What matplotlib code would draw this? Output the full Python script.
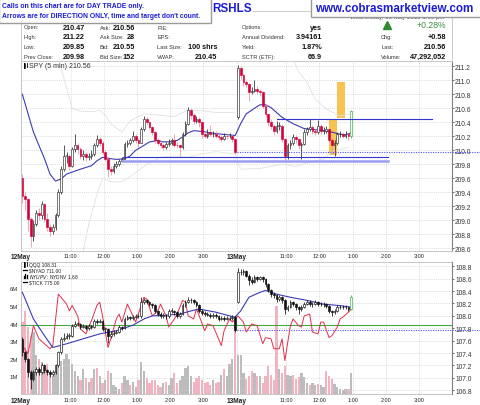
import numpy as np
import matplotlib
matplotlib.use("Agg")
import matplotlib.pyplot as plt
from matplotlib.patches import Rectangle
from matplotlib.lines import Line2D

plt.rcParams['font.family'] = ['Liberation Sans', 'DejaVu Sans']

# ----------------------------- data -----------------------------
days = ['12May', '13May']
bars_per_day = 78
hour_marks = [11, 12, 13, 14, 15]
hour_labels = ['11:00', '12:00', '1:00', '2:00', '3:00']

spy_day_open = [209.61, 210.47]
spy_prev_close = 209.98
spy_close = [
    209.35, 209.30, 209.02, 208.78, 208.95, 209.11, 209.07, 209.23, 209.02, 208.90,
    208.85, 208.90, 209.07, 209.40, 209.73, 209.92, 209.92, 209.78, 210.02, 210.07,
    210.02, 209.92, 209.95, 209.90, 209.92, 209.95, 210.07, 210.16, 210.11, 209.97,
    209.88, 209.73, 209.71, 209.78, 209.80, 209.85, 209.88, 210.09, 210.11, 210.14,
    210.21, 210.14, 210.11, 210.30, 210.45, 210.40, 210.33, 210.26, 210.14, 210.11,
    210.07, 210.04, 210.09, 210.11, 210.14, 210.08, 210.07, 210.04, 210.23, 210.38,
    210.57, 210.50, 210.42, 210.45, 210.40, 210.23, 210.21, 210.26, 210.23, 210.24,
    210.21, 210.19, 210.16, 210.21, 210.20, 210.21, 210.16, 209.98,
    211.18, 211.07, 210.97, 210.95, 210.83, 210.85, 210.88, 210.85, 210.83, 210.64,
    210.52, 210.40, 210.35, 210.28, 210.35, 210.35, 210.16, 209.92, 210.07, 210.11,
    210.19, 210.16, 210.07, 210.09, 210.26, 210.30, 210.33, 210.28, 210.26, 210.35,
    210.28, 210.28, 210.30, 210.14, 210.07, 210.11, 210.23, 210.23, 210.21, 210.23,
    210.20, 210.56]
spy_high = [
    209.66, 209.40, 209.32, 209.05, 209.00, 209.15, 209.18, 209.28, 209.25, 209.10,
    208.95, 208.95, 209.10, 209.45, 209.78, 210.08, 209.98, 209.95, 210.05, 210.23,
    210.10, 210.05, 210.00, 209.98, 209.96, 210.00, 210.10, 210.22, 210.19, 210.13,
    210.00, 209.90, 209.78, 209.82, 209.85, 209.88, 209.90, 210.12, 210.15, 210.18,
    210.28, 210.23, 210.17, 210.34, 210.49, 210.47, 210.42, 210.35, 210.28, 210.17,
    210.13, 210.10, 210.12, 210.16, 210.18, 210.24, 210.12, 210.09, 210.26, 210.42,
    210.62, 210.60, 210.53, 210.49, 210.47, 210.42, 210.27, 210.30, 210.36, 210.28,
    210.27, 210.26, 210.22, 210.25, 210.24, 210.25, 210.24, 210.18,
    211.22, 211.20, 211.10, 211.00, 210.96, 210.90, 211.00, 210.92, 210.88, 210.85,
    210.66, 210.54, 210.45, 210.38, 210.42, 210.40, 210.37, 210.18, 210.10, 210.15,
    210.24, 210.22, 210.18, 210.12, 210.30, 210.34, 210.45, 210.36, 210.31, 210.44,
    210.37, 210.33, 210.35, 210.32, 210.17, 210.15, 210.26, 210.27, 210.26, 210.27,
    210.25, 210.58]
spy_low = [
    209.24, 209.15, 208.85, 208.62, 208.70, 208.92, 209.00, 209.02, 208.98, 208.85,
    208.78, 208.80, 208.86, 209.05, 209.38, 209.70, 209.82, 209.72, 209.76, 209.98,
    209.95, 209.88, 209.86, 209.85, 209.86, 209.88, 209.92, 210.05, 210.06, 209.94,
    209.84, 209.62, 209.65, 209.68, 209.74, 209.77, 209.83, 209.87, 210.05, 210.07,
    210.12, 210.10, 210.05, 210.10, 210.28, 210.36, 210.30, 210.22, 210.11, 210.07,
    210.03, 210.00, 210.02, 210.06, 210.08, 210.05, 210.03, 209.92, 210.02, 210.20,
    210.36, 210.45, 210.38, 210.39, 210.34, 210.18, 210.17, 210.18, 210.20, 210.19,
    210.17, 210.15, 210.12, 210.14, 210.16, 210.17, 210.12, 209.95,
    210.45, 211.00, 210.92, 210.90, 210.70, 210.80, 210.83, 210.80, 210.78, 210.60,
    210.48, 210.35, 210.30, 210.22, 210.25, 210.29, 210.12, 209.85, 209.88, 210.02,
    210.08, 210.10, 210.02, 209.87, 210.07, 210.22, 210.27, 210.24, 210.22, 210.24,
    210.24, 210.24, 210.25, 210.10, 209.95, 209.92, 210.08, 210.19, 210.17, 210.18,
    210.14, 210.18]

qqq_day_open = [107.63, 108.22]
qqq_close = [
    107.41, 107.30, 107.09, 106.98, 107.09, 107.14, 107.09, 107.20, 107.12, 107.09,
    107.06, 107.09, 107.20, 107.41, 107.63, 107.65, 107.68, 107.68, 107.84, 107.87,
    107.87, 107.82, 107.84, 107.80, 107.84, 107.82, 107.92, 107.90, 107.92, 107.79,
    107.79, 107.68, 107.71, 107.73, 107.74, 107.82, 107.80, 107.95, 107.98, 107.96,
    107.98, 108.00, 107.99, 108.22, 108.25, 108.22, 108.19, 108.17, 108.08, 108.03,
    108.00, 108.00, 107.99, 108.08, 108.08, 108.06, 108.00, 108.03, 108.17, 108.22,
    108.25, 108.25, 108.22, 108.17, 108.08, 108.05, 108.03, 108.02, 108.00, 108.01,
    108.00, 107.95, 107.96, 107.95, 107.96, 107.97, 107.98, 107.78,
    108.70, 108.70, 108.72, 108.65, 108.58, 108.55, 108.62, 108.60, 108.62, 108.59,
    108.51, 108.41, 108.35, 108.33, 108.27, 108.30, 108.25, 108.11, 108.14, 108.22,
    108.19, 108.14, 108.11, 108.14, 108.19, 108.22, 108.19, 108.19, 108.22, 108.19,
    108.19, 108.19, 108.165, 108.08, 108.06, 108.08, 108.14, 108.14, 108.14, 108.14,
    108.11, 108.31]
qqq_high = [
    107.66, 107.44, 107.32, 107.12, 107.13, 107.18, 107.17, 107.24, 107.22, 107.15,
    107.12, 107.12, 107.23, 107.44, 107.66, 107.72, 107.72, 107.72, 107.87, 107.91,
    107.90, 107.89, 107.87, 107.86, 107.87, 107.86, 107.95, 107.95, 107.95, 107.93,
    107.82, 107.80, 107.75, 107.77, 107.78, 107.85, 107.84, 107.98, 108.01, 108.00,
    108.02, 108.03, 108.03, 108.30, 108.29, 108.27, 108.24, 108.21, 108.19, 108.10,
    108.06, 108.04, 108.03, 108.11, 108.12, 108.10, 108.08, 108.06, 108.20, 108.26,
    108.31, 108.29, 108.27, 108.24, 108.19, 108.11, 108.08, 108.06, 108.05, 108.04,
    108.04, 108.02, 107.99, 107.99, 107.99, 108.00, 108.01, 107.99,
    108.78, 108.75, 108.76, 108.74, 108.67, 108.62, 108.66, 108.65, 108.65, 108.64,
    108.61, 108.53, 108.44, 108.38, 108.36, 108.34, 108.32, 108.27, 108.18, 108.25,
    108.24, 108.21, 108.16, 108.17, 108.22, 108.25, 108.25, 108.23, 108.25, 108.24,
    108.23, 108.22, 108.21, 108.18, 108.10, 108.11, 108.17, 108.17, 108.17, 108.17,
    108.15, 108.33]
qqq_low = [
    107.36, 107.25, 107.02, 106.82, 106.95, 107.05, 107.04, 107.06, 107.08, 107.04,
    107.02, 107.03, 107.07, 107.18, 107.39, 107.60, 107.62, 107.63, 107.66, 107.82,
    107.83, 107.79, 107.80, 107.77, 107.78, 107.79, 107.80, 107.87, 107.88, 107.76,
    107.74, 107.57, 107.64, 107.68, 107.70, 107.72, 107.77, 107.79, 107.93, 107.93,
    107.94, 107.96, 107.96, 107.97, 108.19, 108.19, 108.16, 108.13, 108.05, 108.00,
    107.97, 107.96, 107.95, 107.97, 108.05, 108.02, 107.97, 107.97, 108.01, 108.15,
    108.20, 108.21, 108.19, 108.14, 108.05, 108.02, 108.00, 107.99, 107.97, 107.97,
    107.97, 107.92, 107.93, 107.92, 107.93, 107.93, 107.94, 107.74,
    108.20, 108.66, 108.66, 108.62, 108.50, 108.52, 108.53, 108.57, 108.58, 108.55,
    108.47, 108.38, 108.31, 108.29, 108.23, 108.24, 108.21, 108.03, 108.08, 108.12,
    108.16, 108.10, 108.03, 108.08, 108.12, 108.17, 108.16, 108.15, 108.17, 108.16,
    108.16, 108.15, 108.13, 108.05, 108.00, 108.03, 108.06, 108.11, 108.11, 108.11,
    108.08, 108.10]
qqq_prev_close = 107.78

volume_m = [
    4.1, 4.7, 3.8, 3.3, 3.5, 2.2, 2.0, 1.8, 1.5, 1.7,
    1.2, 1.0, 1.3, 1.6, 1.9, 2.0, 2.3, 2.0, 1.7, 1.3,
    1.0, 0.8, 1.4, 0.9, 0.7, 0.9, 1.4, 1.5, 1.0, 0.6,
    0.8, 1.3, 1.2, 0.5, 0.4, 0.3, 0.6, 1.0, 0.8, 0.5,
    0.7, 0.4, 0.8, 1.8, 1.3, 0.9, 0.6, 0.8, 0.8, 0.5,
    0.4, 0.6, 0.7, 0.5, 0.9, 1.2, 0.6, 0.8, 1.0, 1.5,
    1.6, 1.0, 0.7, 0.9, 1.0, 0.8, 0.6, 0.7, 0.5, 0.8,
    0.6, 0.7, 1.1, 1.4, 1.0, 1.7, 2.0, 4.0,
    2.2, 2.2, 1.2, 0.85, 1.0, 1.3, 1.2, 1.0, 1.05, 0.65,
    1.0, 1.6, 1.1, 0.8, 5.0, 1.4, 1.2, 1.6, 1.1, 1.0,
    1.1, 0.85, 0.95, 1.2, 0.95, 0.6, 0.5, 0.65, 0.5, 0.55,
    0.5, 0.4, 1.3, 1.0, 0.85, 0.55, 0.4, 0.3, 0.2, 0.3,
    0.3, 1.2]

spy_sma_bar = [0, 4, 8, 10, 12, 14, 16, 21, 25, 27, 29, 32, 34, 37, 39, 41, 44, 46, 49, 51,
               53, 56, 58, 60, 62, 65, 68, 72, 75, 77, 79, 81, 84, 86, 88, 90, 92, 94, 98, 102,
               105, 109, 112, 115, 117, 119]
spy_sma = [210.80, 210.26, 209.88, 209.66, 209.56, 209.59, 209.66, 209.73, 209.78, 209.85,
           209.90, 209.88, 209.87, 209.88, 209.92, 210.00, 210.07, 210.12, 210.14, 210.12,
           210.12, 210.14, 210.19, 210.25, 210.28, 210.27, 210.25, 210.23, 210.22, 210.21,
           210.38, 210.52, 210.60, 210.65, 210.65, 210.61, 210.54, 210.47, 210.38, 210.31,
           210.30, 210.28, 210.26, 210.23, 210.22, 210.25]
bb_up_bar = [13, 14, 16, 18, 21, 25, 28, 30, 32, 36, 39, 44, 50, 55, 60, 64, 70, 77, None,
             98, 100, 103, 106, 110, 115, 119]
bb_up = [211.30, 211.18, 210.89, 210.60, 210.56, 210.55, 210.57, 210.50, 210.38, 210.26,
         210.42, 210.52, 210.50, 210.48, 210.58, 210.57, 210.54, 210.54, None,
         211.30, 211.12, 210.97, 210.73, 210.59, 210.49, 210.52]
bb_lo_bar = [22, 24, 27, 29, 32, 36, 40, 45, 50, 55, 60, 65, 70, 77, 79, 86, 94, 99, 104, 109, 113, 118]
bb_lo = [208.56, 208.94, 209.37, 209.60, 209.55, 209.55, 209.65, 209.80, 209.90, 209.92,
         209.90, 209.95, 209.98, 209.95, 209.73, 209.74, 209.80, 209.77, 209.83, 209.88, 210.00, 210.04]

level_price = [210.45, 209.91, 209.84]
level_from = [92.5, 36.9, 36.9]
level_to = [148.6, 132.7, 132.7]

box_from = [111.5, 114.3]
box_to = [114.5, 117.3]
box_low = [209.93, 210.46]
box_high = [210.45, 210.98]

qqq_sma_bar = [0, 4, 8, 11, 16, 22, 28, 34, 40, 44, 47, 52, 57, 61, 64, 70, 75, 77, 79, 82,
               86, 88, 92, 97, 103, 109, 115, 119]
qqq_sma = [108.38, 107.95, 107.68, 107.49, 107.55, 107.63, 107.71, 107.76, 107.85, 107.95,
           108.00, 108.01, 108.03, 108.08, 108.11, 108.06, 108.00, 107.98, 108.08, 108.30,
           108.38, 108.41, 108.35, 108.30, 108.25, 108.19, 108.165, 108.14]
tick_bar = [0, 2, 4, 6, 10, 11, 13, 14, 16, 17, 18, 20, 21, 23, 25, 27, 28, 29, 31, 32,
            34, 35, 36, 38, 40, 41, 43, 44, 45, 47, 49, 50, 52, 53, 55, 56, 58, 59, 60, 62,
            63, 64, 66, 67, 69, 71, 72, 73, 75, 76, 78, 80, 81, 83, 85, 87, 88, 90, 91, 93,
            94, 95, 97, 98, 100, 101, 102, 104, 105, 107, 108, 109, 111, 112, 114, 115, 116, 118, 119]
tick_line = [107.52, 107.39, 107.84, 107.63, 107.47, 107.52, 108.35, 108.30, 108.19, 108.08,
             108.17, 108.00, 107.79, 107.71, 107.92, 108.17, 108.22, 108.00, 107.49, 107.63,
             107.95, 108.03, 107.90, 108.19, 108.00, 107.90, 108.17, 108.30, 108.27, 108.00,
             108.08, 108.19, 108.00, 107.82, 107.95, 108.03, 108.25, 108.22, 108.00, 107.95,
             108.11, 108.00, 107.76, 107.87, 107.84, 107.63, 107.52, 107.76, 107.95, 107.90,
             108.00, 107.90, 107.74, 107.87, 107.84, 107.55, 107.65, 107.63, 107.47, 107.47,
             107.63, 107.28, 107.84, 107.95, 107.84, 107.82, 108.00, 108.03, 107.74, 107.71,
             107.90, 107.90, 107.65, 107.68, 107.82, 107.95, 107.98, 108.06, 108.11]
green_level = 107.85

quote_labels = [['Open:', 'High:', 'Low:', 'Prev Close:'],
                ['Ask:', 'Ask Size:', 'Bid:', 'Bid Size:'],
                ['P/E:', 'EPS:', 'Last Size:', 'VWAP:'],
                ['Options:', 'Annual Dividend:', 'Yield:', 'SCTR (ETF):'],
                ['', 'Chg:', 'Last:', 'Volume:']]
quote_values = [['210.47', '211.22', '209.85', '209.98'],
                ['210.56', '28', '210.55', '152'],
                ['', '', '100 shrs', '210.45'],
                ['yes', '3.94161', '1.87%', '66.9'],
                ['+0.28%', '+0.58', '210.56', '47,292,052']]
note_lines = ["Calls on this chart are for DAY TRADE only.",
              "Arrows are for DIRECTION ONLY, time and target don't count."]
title_text = "RSHLS"
site_text = "www.cobrasmarketview.com"
date_text = "Wednesday, 13 May 2015 1:00 pm"
spy_legend = "SPY (5 min) 210.56"
lower_legend = ["QQQ 108.31", "$NYAD 711.00", "$NYUPV:$NYDNV 1.68", "$TICK 775.00"]

# ----------------------------- figure -----------------------------
W, H = 480, 406
fig = plt.figure(figsize=(4.8, 4.06), dpi=100)
fig.patch.set_facecolor('white')
BLUE = '#1c1cd6'


def ftext(x, y, s, size, ha='left', weight='normal', color='#333333', zorder=10, **kw):
    fig.text(x / W, 1 - y / H, s, fontsize=size, ha=ha, va='center',
             fontweight=weight, color=color, zorder=zorder, **kw)


def frect(x0, y0, x1, y1, **kw):
    fig.add_artist(Rectangle((x0 / W, 1 - y1 / H), (x1 - x0) / W, (y1 - y0) / H,
                             transform=fig.transFigure, **kw))


def fline(xs, ys, **kw):
    fig.add_artist(Line2D([x / W for x in xs], [1 - y / H for y in ys],
                          transform=fig.transFigure, **kw))


def opens_from(close, day_open):
    o = []
    for i in range(len(close)):
        o.append(day_open[i // bars_per_day] if i % bars_per_day == 0 else close[i - 1])
    return o


def draw_candles(ax, o, h, l, c, style):
    n = len(c)
    for i in range(n):
        x = i + 0.5
        up = c[i] >= o[i]
        if i == n - 1:
            face, edge, wick = 'white', '#35b040', '#35b040'
        elif style == 'spy':
            if up:
                face, edge, wick = 'white', '#2a2a2a', '#2a2a2a'
            else:
                face, edge, wick = '#d4003a', '#d4003a', '#ee8fa5'
        else:
            if up:
                face, edge, wick = 'white', '#111111', '#111111'
            else:
                face, edge, wick = '#111111', '#111111', '#111111'
        ax.plot([x, x], [l[i], h[i]], color=wick, lw=0.55, zorder=4, solid_capstyle='butt')
        bot = min(o[i], c[i])
        ht = max(abs(c[i] - o[i]), 0.008)
        ax.add_patch(Rectangle((x - 0.31, bot), 0.62, ht, facecolor=face,
                               edgecolor=edge, lw=0.45, zorder=5))


# tick positions derived from session layout
tick_pos, tick_lab = [], []
for d, name in enumerate(days):
    start = d * bars_per_day
    tick_pos.append(start)
    tick_lab.append(name)
    for hm, hl in zip(hour_marks, hour_labels):
        tick_pos.append(start + (hm - 9.5) * 12)
        tick_lab.append(hl)

NB = 2 * bars_per_day
grid_kw = dict(color='#d2d2d2', lw=0.5, ls=(0, (1.5, 1.5)))

# ---------------- upper panel ----------------
ax1 = fig.add_axes([21 / W, 1 - 252 / H, 431 / W, 190 / H])
ax1.set_xlim(0, NB)
ax1.set_ylim(208.561, 211.276)
ax1.set_axisbelow(True)
yt = np.round(np.arange(208.6, 211.21, 0.2), 1)
ax1.set_yticks(yt)
ax1.set_yticklabels([f'{v:.1f}' for v in yt])
ax1.yaxis.tick_right()
ax1.tick_params(axis='y', labelsize=4.8, length=1.5, pad=0.8, colors='#333333', width=0.5)
ax1.set_xticks(tick_pos)
ax1.set_xticklabels(tick_lab)
ax1.tick_params(axis='x', labelsize=4.0, length=0, pad=1.3, colors='#222222')
for t in ax1.get_xticklabels():
    if t.get_text() in days:
        t.set_fontweight('bold')
        t.set_fontsize(4.7)
ax1.grid(True, **grid_kw)
for s in ['left', 'top', 'bottom']:
    ax1.spines[s].set_color('#bdbdbd')
    ax1.spines[s].set_linewidth(0.6)
ax1.spines['right'].set_color('#808080')
ax1.spines['right'].set_linewidth(0.8)

spy_open = opens_from(spy_close, spy_day_open)

for x0, x1, lo, hi in zip(box_from, box_to, box_low, box_high):
    ax1.add_patch(Rectangle((x0, lo), x1 - x0, hi - lo, facecolor='#f8c353',
                            edgecolor='none', zorder=2))

ax1.plot(np.array(bb_up_bar, dtype=float) + 0.5, np.array(bb_up, dtype=float),
         color='#dde3dd', lw=0.6, zorder=2)
ax1.plot(np.array(bb_lo_bar, dtype=float) + 0.5, np.array(bb_lo, dtype=float),
         color='#dde3dd', lw=0.6, zorder=2)
ax1.plot(np.array(spy_sma_bar) + 0.5, spy_sma, color='#3b3bb5', lw=0.8, zorder=3)

ax1.plot([level_from[0], level_to[0]], [level_price[0]] * 2, color='#3434d0', lw=0.8, zorder=6)
ax1.plot([level_from[1], level_to[1]], [level_price[1]] * 2, color='#3434d0', lw=0.8, zorder=6)
ax1.plot([level_from[2], level_to[2]], [level_price[2]] * 2, color='#9a9cf4', lw=1.8, zorder=6)
ax1.plot([bars_per_day, NB + 10.2], [spy_prev_close] * 2, color='#5050ff', lw=0.8,
         ls=(0, (1, 1.2)), zorder=6, clip_on=False)

draw_candles(ax1, spy_open, spy_high, spy_low, spy_close, 'spy')

# ---------------- lower panel ----------------
rect2 = [21 / W, 1 - 395 / H, 431 / W, 132 / H]
axv = fig.add_axes(rect2)
axv.set_xlim(0, NB)
axv.set_ylim(0, 7.5e6)
axv.set_axisbelow(True)
axv.set_xticks(tick_pos)
axv.tick_params(axis='x', length=0, labelbottom=False)
axv.grid(True, axis='x', **grid_kw)
axv.set_yticks([1e6, 2e6, 3e6, 4e6, 5e6, 6e6])
axv.set_yticklabels(['1M', '2M', '3M', '4M', '5M', '6M'])
axv.tick_params(axis='y', labelsize=4.3, length=0, pad=2.2, colors='#333333')
for s in axv.spines.values():
    s.set_color('#bdbdbd')
    s.set_linewidth(0.6)

qqq_open = opens_from(qqq_close, qqq_day_open)
vol_cols = ['#f2b3c1' if c < o else '#bcbcbc' for o, c in zip(qqq_open, qqq_close)]
axv.bar(np.arange(len(volume_m)) + 0.5, np.array(volume_m) * 1e6, width=0.82,
        color=vol_cols, edgecolor='none', zorder=1)

ax2 = fig.add_axes(rect2)
ax2.patch.set_visible(False)
ax2.set_xlim(0, NB)
ax2.set_ylim(106.74, 108.869)
ax2.set_axisbelow(True)
yt2 = np.round(np.arange(106.8, 108.81, 0.2), 1)
ax2.set_yticks(yt2)
ax2.set_yticklabels([f'{v:.1f}' for v in yt2])
ax2.yaxis.tick_right()
ax2.tick_params(axis='y', labelsize=4.8, length=1.5, pad=0.8, colors='#333333', width=0.5)
ax2.set_xticks(tick_pos)
ax2.set_xticklabels(tick_lab)
ax2.tick_params(axis='x', labelsize=4.0, length=0, pad=2.4, colors='#222222')
for t in ax2.get_xticklabels():
    if t.get_text() in days:
        t.set_fontweight('bold')
        t.set_fontsize(4.7)
ax2.grid(True, axis='y', **grid_kw)
for s in ['left', 'top', 'bottom']:
    ax2.spines[s].set_visible(False)
ax2.spines['right'].set_color('#808080')
ax2.spines['right'].set_linewidth(0.8)

ax2.plot([0, NB], [green_level] * 2, color='#45a845', lw=0.8, zorder=2)
ax2.plot([bars_per_day, NB + 10.2], [qqq_prev_close] * 2, color='#5050ff', lw=0.8,
         ls=(0, (1, 1.2)), zorder=2, clip_on=False)
ax2.plot(np.array(tick_bar) + 0.5, tick_line, color='#e2304c', lw=0.7, zorder=3)
ax2.plot(np.array(qqq_sma_bar) + 0.5, qqq_sma, color='#3b3bb5', lw=0.8, zorder=3)
draw_candles(ax2, qqq_open, qqq_high, qqq_low, qqq_close, 'qqq')

# ---------------- header ----------------
frect(21, 12, 452, 62, facecolor='white', edgecolor='#c4c4c4', lw=0.6, zorder=1)
col_lab_x = [24, 100, 157, 242, 381]
col_val_x = [85, 135, 217, 322, 446]
row_y = [28.0, 37.7, 47.4, 57.2]
for c in range(5):
    for r in range(4):
        lab = quote_labels[c][r]
        val = quote_values[c][r]
        if lab:
            ftext(col_lab_x[c], row_y[r], lab, 4.1, color='#333333')
        if val:
            if c == 4 and r == 0:
                ftext(col_val_x[c], row_y[r] - 2.0, val, 6.2, ha='right', color='#3d8f3d')
            else:
                ftext(col_val_x[c], row_y[r], val, 5.2, ha='right', weight='bold', color='#111111')
fig.add_artist(Line2D([387 / W], [1 - 25.5 / H], marker='^', markersize=5.2,
                      color='#2e8b2e', transform=fig.transFigure, zorder=10))

ftext(444, 17.2, date_text, 4.4, ha='right', color='#444444', zorder=9)
ftext(212.5, 8.5, title_text, 8.4, weight='bold', color=BLUE, zorder=10,
      bbox=dict(facecolor='white', edgecolor='none', pad=0.6))

# note box (top-left)
frect(-1, -1, 211, 23.6, facecolor='white', edgecolor='#9a9a9a', lw=1.0, zorder=20)
ftext(2.5, 6.5, note_lines[0], 4.95, weight='bold', color=BLUE, zorder=21)
ftext(2.5, 16.3, note_lines[1], 4.9, weight='bold', color=BLUE, zorder=21)

# site box (top-right)
frect(310.5, -1, 481, 18.3, facecolor='white', edgecolor='#9a9a9a', lw=1.0, zorder=20)
ftext(394, 9.5, site_text, 8.4, ha='center', weight='bold', color=BLUE, zorder=21)

# ---------------- legends ----------------
def icon_candle(x, y):
    fline([x, x], [y - 2.5, y + 2.5], color='black', lw=0.6, zorder=12)
    fline([x + 1.5, x + 1.5], [y - 1.5, y + 2], color='black', lw=1.1, zorder=12)
    fline([x + 3.2, x + 3.2], [y - 2.5, y + 1.5], color='black', lw=0.6, zorder=12)


def icon_line(x, y):
    fline([x, x + 4], [y, y], color='black', lw=0.9, zorder=12)


def icon_bars(x, y):
    fline([x, x], [y + 2, y], color='black', lw=0.9, zorder=12)
    fline([x + 1.6, x + 1.6], [y + 2, y - 2.3], color='black', lw=0.9, zorder=12)
    fline([x + 3.2, x + 3.2], [y + 2, y - 1], color='black', lw=0.9, zorder=12)


icon_candle(23.5, 66.5)
ftext(29, 66.5, spy_legend, 5.0, color='#333333', zorder=12)

leg_y = [265.5, 271.3, 277.1, 282.9]
icon_candle(23.5, leg_y[0])
icon_line(23, leg_y[1])
icon_bars(23.5, leg_y[2])
icon_line(23, leg_y[3])
for yy, s in zip(leg_y, lower_legend):
    ftext(29, yy, s, 3.5, color='#222222', zorder=12)

fig.savefig('out.png', dpi=100, facecolor='white')
